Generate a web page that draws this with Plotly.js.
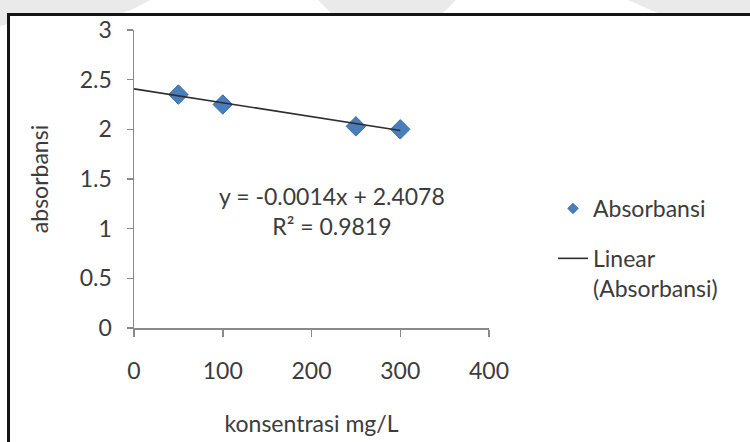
<!DOCTYPE html>
<html>
<head>
<meta charset="utf-8">
<script src="https://cdn.plot.ly/plotly-3.0.1.min.js"></script>
<style>
  html, body { margin: 0; padding: 0; background: #ffffff; }
  #chart { width: 750px; height: 442px; }
</style>
</head>
<body>
<div id="chart"></div>
<script>
// ---- data ----
var concentration = [50, 100, 250, 300];          // konsentrasi mg/L
var absorbance    = [2.35, 2.25, 2.03, 2.00];      // absorbansi
var trendSlope     = -0.0014;
var trendIntercept = 2.4078;
var trendRSquared  = 0.9819;
var trendX = [0, 300];
var xTicks = [0, 100, 200, 300, 400];
var yTicks = [0, 0.5, 1, 1.5, 2, 2.5, 3];
var seriesName = 'Absorbansi';
var trendName  = 'Linear<br>(Absorbansi)';
var xTitle = 'konsentrasi mg/L';
var yTitle = 'absorbansi';

var trendY = trendX.map(function (x) { return trendSlope * x + trendIntercept; });

var FONT = 'Lato, "Open Sans", sans-serif';
var FS = 23;
var TXT = '#3c3c3c';
var AX = '#8a8a8a';
var BLUE = '#4a7ebb';
var WM = '#e9eae9';

var traces = [
  {
    x: concentration, y: absorbance,
    type: 'scatter', mode: 'markers', name: seriesName,
    showlegend: false,
    marker: { symbol: 'diamond', size: 15, color: BLUE,
              line: { color: '#3f70aa', width: 1 } },
    hoverinfo: 'x+y'
  },
  {
    // legend entry for the series (smaller symbol, as in the reference legend)
    x: [null], y: [null],
    type: 'scatter', mode: 'markers', name: seriesName,
    legendgroup: 'a',
    marker: { symbol: 'diamond', size: 8, color: BLUE,
              line: { color: '#3f70aa', width: 1 } },
    hoverinfo: 'skip'
  },
  {
    x: trendX, y: trendY,
    type: 'scatter', mode: 'lines', name: trendName,
    legendgroup: 'b',
    line: { color: '#2e2e2e', width: 1.6 },
    hoverinfo: 'skip'
  }
];

var M = { l: 134, r: 261, t: 30, b: 114 };
var W = 750, H = 442;
var pw = W - M.l - M.r, ph = H - M.t - M.b;
function px2x(px) { return (px - M.l) / pw; }
function py2y(py) { return (H - M.b - py) / ph; }
function poly(pts) {
  return 'M ' + pts.map(function (p) { return px2x(p[0]) + ',' + py2y(p[1]); }).join(' L ') + ' Z';
}
function bgShape(pts) {
  return { type: 'path', xref: 'paper', yref: 'paper', layer: 'below',
           path: poly(pts), fillcolor: WM, line: { width: 0 } };
}

var eqText = 'y = ' + trendSlope.toFixed(4) + 'x + ' + trendIntercept.toFixed(4) +
             '<br>R² = ' + trendRSquared.toFixed(4);

var layout = {
  width: W, height: H,
  margin: M,
  paper_bgcolor: '#ffffff',
  plot_bgcolor: 'rgba(0,0,0,0)',
  font: { family: FONT, size: FS, color: TXT },
  showlegend: true,
  legend: {
    x: px2x(553), y: py2y(187), xanchor: 'left', yanchor: 'top',
    bgcolor: 'rgba(0,0,0,0)', borderwidth: 0,
    font: { family: FONT, size: FS, color: TXT },
    itemsizing: 'trace', valign: 'top', tracegroupgap: 17
  },
  xaxis: {
    range: [0, 400], tickvals: xTicks, ticktext: xTicks.map(String),
    showgrid: false, zeroline: false,
    showline: true, linecolor: AX, linewidth: 1.5,
    ticks: 'outside', ticklen: 7, tickcolor: AX, tickwidth: 1.5,
    ticklabelstandoff: 15,
    tickfont: { family: FONT, size: FS, color: TXT },
    title: { text: xTitle, font: { family: FONT, size: FS, color: TXT }, standoff: 33 },
    automargin: false, fixedrange: true
  },
  yaxis: {
    range: [0, 3], tickvals: yTicks, ticktext: yTicks.map(String),
    showgrid: false, zeroline: false,
    showline: true, linecolor: AX, linewidth: 1.5,
    ticks: 'outside', ticklen: 6, tickcolor: AX, tickwidth: 1.5,
    ticklabelstandoff: 10,
    tickfont: { family: FONT, size: FS, color: TXT },
    title: { text: yTitle, font: { family: FONT, size: FS, color: TXT }, standoff: 24 },
    automargin: false, fixedrange: true
  },
  annotations: [
    {
      xref: 'x', yref: 'y', x: 223, y: 1.175,
      text: eqText, showarrow: false, align: 'center',
      font: { family: FONT, size: FS, color: TXT }
    }
  ],
  shapes: [
    // faint watermark around the framed picture
    bgShape([[0, 0], [150, 0], [135, 8], [120, 14], [8, 14], [8, 24], [0, 26]]),
    bgShape([[318, 0], [456, 0], [442, 14], [332, 14]]),
    bgShape([[628, 0], [760, 0], [760, 14], [660, 14]]),
    {
      type: 'rect', xref: 'paper', yref: 'paper', layer: 'above',
      x0: px2x(8.5), x1: px2x(770), y0: py2y(470), y1: py2y(14.5),
      line: { color: '#141414', width: 3 }, fillcolor: 'rgba(0,0,0,0)'
    }
  ]
};

Plotly.newPlot('chart', traces, layout, { displayModeBar: false, staticPlot: true });
</script>
</body>
</html>
